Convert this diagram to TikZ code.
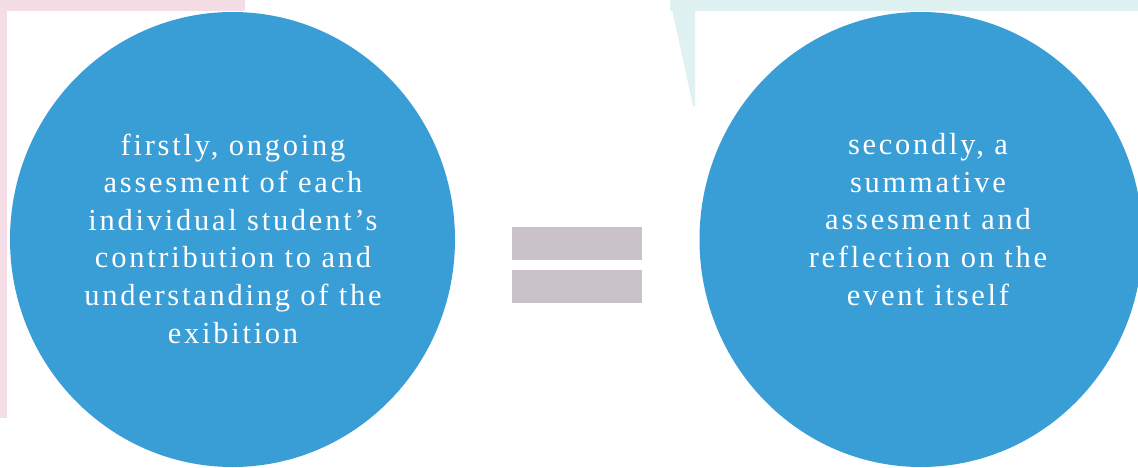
\documentclass[tikz,border=0pt]{standalone}
\usepackage{fontspec}
\setmainfont{Liberation Serif}[LetterSpace=9]
\definecolor{circblue}{HTML}{399DD6}
\definecolor{pinkbg}{HTML}{F5DDE6}
\definecolor{tealbg}{HTML}{DFF1F1}
\definecolor{eqgray}{HTML}{C9C2C9}
\tikzset{
  bubble/.style={fill=circblue, draw=none},
  bubbletext/.style={text=white, align=center, inner sep=0pt, anchor=base,
    font=\fontsize{30.5}{37.6}\selectfont},
  eqbar/.style={fill=eqgray, draw=none},
}
\begin{document}
\begin{tikzpicture}[x=1pt,y=-1pt]
\useasboundingbox (0,0) rectangle (1138,468);
\fill[white] (0,0) rectangle (1138,468);
% pink frame
\fill[pinkbg] (0,0) rectangle (245,11);
\fill[pinkbg] (0,0) rectangle (7,418);
% teal frame
\fill[tealbg] (670,0) rectangle (1138,11);
\fill[tealbg] (670,0) -- (695,0) -- (695,106) -- (693,106) -- cycle;
% circles
\fill[bubble] (232.5,239.5) ellipse [x radius=222.5, y radius=227.5];
\fill[bubble] (921,239.5) ellipse [x radius=221.5, y radius=227.5];
% equals
\fill[eqbar] (512,227) rectangle (642,260);
\fill[eqbar] (512,270) rectangle (642,303);
% texts (anchored at the baseline of the last line)
\node[bubbletext] (lt) at (233,343) {firstly, ongoing\\assesment of each\\individual student’s\\contribution to and\\understanding of the\\exibition};
\node[bubbletext] (rt) at (928,305) {secondly, a\\summative\\assesment and\\reflection on the\\event itself};
\end{tikzpicture}
\end{document}
